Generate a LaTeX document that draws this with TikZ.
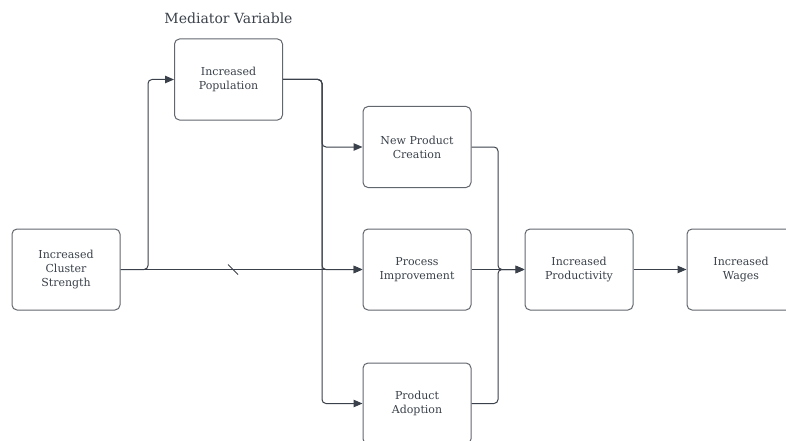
\documentclass[tikz,border=0pt]{standalone}
\usepackage{fontspec}
\setmainfont{DejaVu Serif}
\usetikzlibrary{arrows.meta}
\definecolor{ink}{HTML}{3A414A}
\definecolor{frame}{HTML}{62676E}
\tikzset{
  stage/.style={draw=frame, line width=1pt, rounded corners=5pt, fill=white,
    minimum width=108pt, minimum height=81pt, align=center,
    text=ink, font=\fontsize{11}{14}\selectfont, inner sep=2pt},
  link/.style={draw=ink, line width=1pt, rounded corners=4pt},
  arr/.style={link, -{Triangle[length=9pt,width=7.5pt]}}
}
\begin{document}
\begin{tikzpicture}[x=1pt, y=-1pt]
\useasboundingbox (0,0) rectangle (786,441);

\node[text=ink, font=\fontsize{14}{17}\selectfont] (title) at (228.5,18) {Mediator Variable};

\node[stage] (clus)  at (66,269.5)   {Increased\\Cluster\\Strength};
\node[stage] (pop)   at (228.5,79.5) {Increased\\Population};
\node[stage] (newp)  at (417,147)    {New Product\\Creation};
\node[stage] (proc)  at (417,269.5)  {Process\\Improvement};
\node[stage] (adopt) at (417,403.5)  {Product\\Adoption};
\node[stage] (prod)  at (579,269.5)  {Increased\\Productivity};
\node[stage] (wage)  at (741,269.5)  {Increased\\Wages};

% vertical buses
\coordinate (cx) at (148,0);
\coordinate (bx) at (322,0);
\coordinate (mx) at (498,0);

% cluster strength to population and to process improvement
\draw[arr] (clus.east) -- (cx |- clus.east) |- (pop.west);
\draw[arr] (clus.east) -- (proc.west)
  coordinate[pos=0.465] (tick);
\draw[link] ([shift={(-5,-5)}]tick) -- ([shift={(5,5)}]tick);

% population fans out to the three mediators
\draw[arr] (pop.east) -- (bx |- pop.east) |- (newp.west);
\draw[arr] (pop.east) -- (bx |- pop.east) |- (proc.west);
\draw[arr] (pop.east) -- (bx |- pop.east) |- (adopt.west);

% mediators merge into productivity
\draw[arr] (newp.east) -- (mx |- newp.east) |- (prod.west);
\draw[arr] (proc.east) -- (prod.west);
\draw[arr] (adopt.east) -- (mx |- adopt.east) |- (prod.west);

\draw[arr] (prod.east) -- (wage.west);
\end{tikzpicture}
\end{document}
